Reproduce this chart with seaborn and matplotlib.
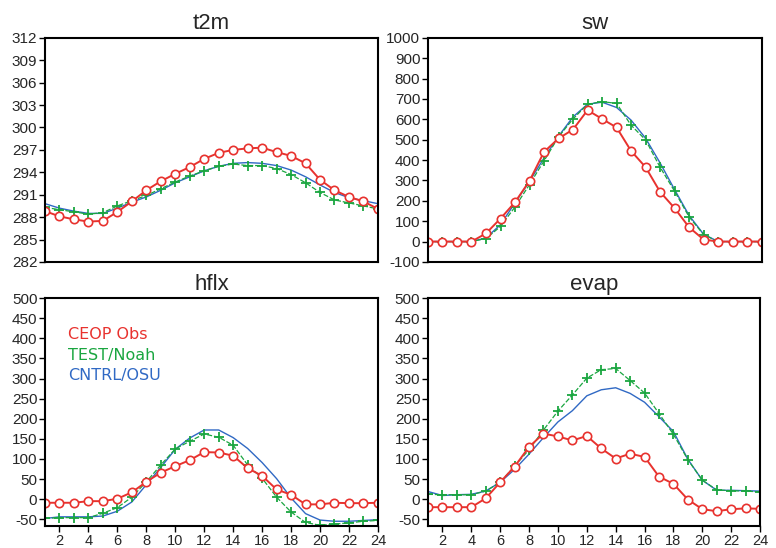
import numpy as np
import pandas as pd
import matplotlib
matplotlib.use("Agg")
import matplotlib.pyplot as plt
import seaborn as sns

hours = list(range(1, 25))

# t2m (K)
t2m_obs = [288.8, 288.1, 287.7, 287.4, 287.5, 288.7, 290.1, 291.6, 292.8, 293.8, 294.7, 295.8,
           296.6, 297.0, 297.2, 297.3, 296.7, 296.2, 295.2, 293.0, 291.6, 290.7, 290.1, 289.1]
t2m_noah = [289.3, 289.0, 288.7, 288.4, 288.6, 289.5, 290.2, 290.9, 291.8, 292.7, 293.5, 294.2,
            294.8, 295.1, 294.9, 294.9, 294.5, 293.7, 292.6, 291.3, 290.3, 289.9, 289.5, 289.1]
t2m_osu = [289.8, 289.2, 288.8, 288.5, 288.5, 289.2, 290.0, 290.7, 291.6, 292.6, 293.4, 294.2,
           294.8, 295.2, 295.3, 295.2, 294.9, 294.3, 293.4, 292.3, 291.3, 290.6, 290.2, 289.8]

# sw
sw_obs = [0, 0, 0, 0, 40, 113, 193, 298, 440, 506, 550, 645,
          602, 560, 445, 365, 244, 164, 70, 10, 0, 0, 0, 0]
sw_noah = [0, 0, 0, 0, 15, 74, 170, 280, 396, 514, 602, 674,
           687, 678, 571, 499, 365, 247, 121, 34, 0, 0, 0, 0]
sw_osu = [0, 0, 0, 0, 18, 83, 190, 296, 410, 517, 612, 674,
          684, 658, 596, 507, 386, 255, 128, 36, 0, 0, 0, 0]

# hflx
hflx_obs = [-9, -9, -9, -5, -5, 1, 17, 43, 66, 82, 97, 117,
            116, 108, 77, 58, 24, 11, -13, -13, -9, -10, -10, -9]
hflx_noah = [-48, -46, -46, -46, -35, -21, 5, 43, 85, 125, 144, 162,
             154, 134, 85, 52, 5, -32, -58, -65, -62, -59, -55, -53]
hflx_osu = [-48, -44, -44, -44, -42, -30, -7, 36, 79, 124, 152, 172,
            172, 153, 126, 91, 51, 3, -36, -52, -55, -55, -53, -51]

# evap
evap_obs = [-20, -20, -20, -20, 2, 42, 81, 130, 163, 156, 146, 157,
            126, 101, 113, 105, 56, 38, -1, -25, -30, -25, -23, -24]
evap_noah = [12, 11, 11, 11, 20, 42, 82, 123, 172, 219, 259, 301,
             322, 325, 295, 264, 213, 161, 98, 47, 23, 21, 20, 18]
evap_osu = [19, 9, 11, 12, 20, 42, 74, 112, 153, 192, 220, 257,
            272, 277, 263, 241, 205, 168, 99, 47, 22, 22, 21, 20]

panels = [
    ("t2m", t2m_obs, t2m_noah, t2m_osu, (282, 312), np.arange(282, 313, 3)),
    ("sw", sw_obs, sw_noah, sw_osu, (-100, 1000), np.arange(-100, 1001, 100)),
    ("hflx", hflx_obs, hflx_noah, hflx_osu, (-67, 500), np.arange(-50, 501, 50)),
    ("evap", evap_obs, evap_noah, evap_osu, (-67, 500), np.arange(-50, 501, 50)),
]

RED = "#e8322e"
GREEN = "#1aa640"
BLUE = "#3069c4"

sns.set_style("ticks")
plt.rcParams['font.family'] = ['Liberation Sans', 'DejaVu Sans']

fig = plt.figure(figsize=(7.76, 5.48), dpi=100)
positions = [
    [0.058, 0.522, 0.429, 0.409],
    [0.5515, 0.522, 0.430, 0.409],
    [0.058, 0.040, 0.429, 0.416],
    [0.5515, 0.040, 0.428, 0.416],
]

for i, (name, obs, noah, osu, ylim, yticks) in enumerate(panels):
    ax = fig.add_axes(positions[i])
    sns.lineplot(x=hours, y=osu, ax=ax, color=BLUE, lw=1.0)
    sns.lineplot(x=hours, y=noah, ax=ax, color=GREEN, lw=0.9, linestyle=(0, (4, 1.5)),
                 marker="+", markersize=7, markeredgewidth=1.3, markeredgecolor=GREEN)
    sns.lineplot(x=hours, y=obs, ax=ax, color=RED, lw=1.4, marker="o", markersize=6,
                 markerfacecolor="white", markeredgecolor=RED, markeredgewidth=1.2)
    ax.set_xlim(1, 24)
    ax.set_ylim(*ylim)
    ax.set_yticks(yticks)
    ax.set_yticklabels([str(v) for v in yticks], fontsize=11)
    if i >= 2:
        ax.set_xticks(range(2, 25, 2))
        ax.set_xticklabels([str(v) for v in range(2, 25, 2)], fontsize=10.5)
    else:
        ax.set_xticks([])
    ax.tick_params(direction="out", length=4, width=1, pad=1.5, color="black")
    for sp in ax.spines.values():
        sp.set_visible(True)
        sp.set_linewidth(1.5)
        sp.set_color("black")
    ax.set_title(name, fontsize=16, pad=6, fontweight="light")
    ax.set_xlabel("")
    ax.set_ylabel("")

    if name == "hflx":
        for k, (lab, col) in enumerate([("CEOP Obs", RED), ("TEST/Noah", GREEN), ("CNTRL/OSU", BLUE)]):
            ax.text(0.07, 0.82 - 0.09 * k, lab, color=col, fontsize=11.5,
                    family="DejaVu Sans", transform=ax.transAxes)

fig.savefig("out.png", dpi=100)
